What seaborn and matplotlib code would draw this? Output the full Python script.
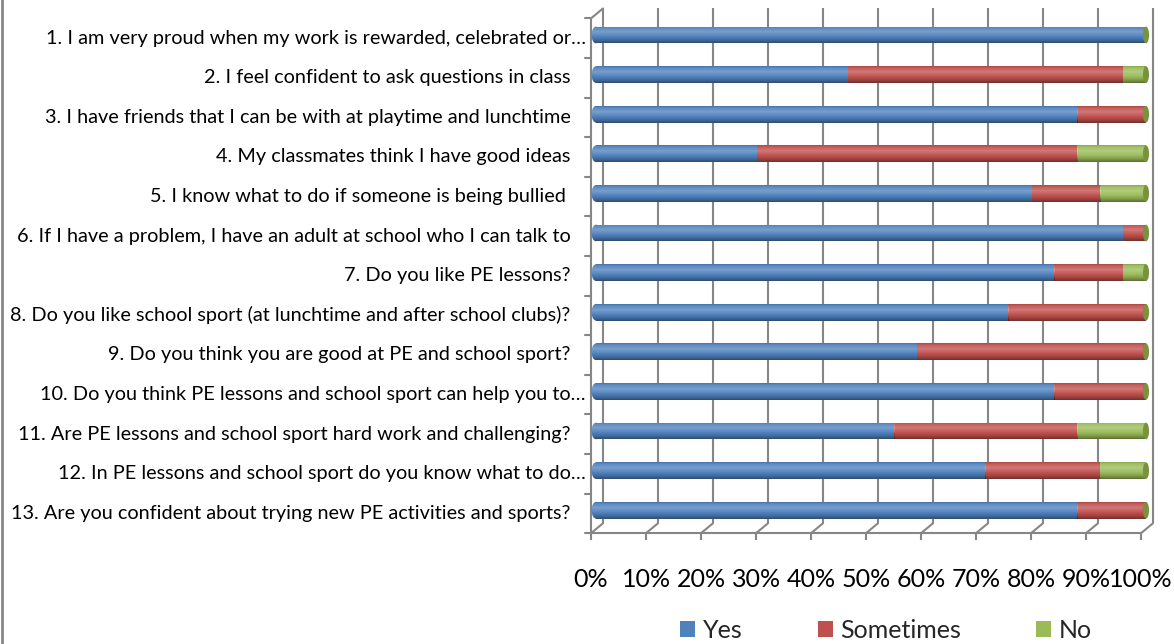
import numpy as np
import pandas as pd
import matplotlib
matplotlib.use("Agg")
import matplotlib.pyplot as plt
from matplotlib.patches import Ellipse, Patch
from matplotlib.lines import Line2D
import seaborn as sns

# ---- survey data (percent of pupils) ----
questions = [
    "1. I am very proud when my work is rewarded, celebrated or…",
    "2. I feel confident to ask questions in class",
    "3. I have friends that I can be with at playtime and lunchtime",
    "4. My classmates think I have good ideas",
    "5. I know what to do if someone is being bullied ",
    "6. If I have a problem, I have an adult at school who I can talk to",
    "7. Do you like PE lessons?",
    "8. Do you like school sport (at lunchtime and after school clubs)?",
    "9. Do you think you are good at PE and school sport?",
    "10. Do you think PE lessons and school sport can help you to…",
    "11. Are PE lessons and school sport hard work and challenging?",
    "12. In PE lessons and school sport do you know what to do…",
    "13. Are you confident about trying new PE activities and sports?",
]
yes = [100.0, 45.8, 87.5, 29.2, 79.2, 95.8, 83.3, 75.0, 58.3, 83.3, 54.2, 70.8, 87.5]
sometimes = [0.0, 50.0, 12.5, 58.3, 12.5, 4.2, 12.5, 25.0, 41.7, 16.7, 33.3, 20.8, 12.5]
no = [0.0, 4.2, 0.0, 12.5, 8.3, 0.0, 4.2, 0.0, 0.0, 0.0, 12.5, 8.3, 0.0]

series_names = ["Yes", "Sometimes", "No"]
series_colors = ["#4F81BD", "#C0504D", "#9BBB59"]
cap_color = "#77933C"

x_ticks = list(range(0, 101, 10))
x_tick_labels = [f"{t}%" for t in x_ticks]

df = pd.DataFrame({"question": questions, "Yes": yes, "Sometimes": sometimes, "No": no})

sns.set_theme(style="white")
plt.rcParams["font.family"] = ["Lato", "DejaVu Sans"]

W, H = 1174, 644
fig = plt.figure(figsize=(W / 100, H / 100), dpi=100)
ax = fig.add_axes([0, 0, 1, 1])

# axis mapping: 5.5 px per percent, 39.6 px per question row
X0, XS = 596.0, 5.5
Y0, YS = 35.0, 39.6
xlim = ((0 - X0) / XS, (W - X0) / XS)
ylim = ((H - Y0) / YS, (0 - Y0) / YS)

grid_c = "#868686"
grid_lw = 1.5

# 3-D frame geometry (offsets in data units)
dxf, dxb = -0.9, 1.27          # front / back wall x-shift
top_f, floor_f = -0.42, 12.58  # front top / floor
dyb = -0.25                    # back wall lift

# back-wall gridlines with their floor diagonals and ticks
for t in x_ticks:
    ax.plot([t + dxb, t + dxb], [top_f + dyb, floor_f + dyb], color=grid_c, lw=grid_lw, zorder=0.5,
            solid_capstyle="butt")
    ax.plot([t + dxb, t + dxf], [floor_f + dyb, floor_f], color=grid_c, lw=grid_lw, zorder=0.5)
    ax.plot([t + dxf, t + dxf], [floor_f, floor_f + 0.18], color=grid_c, lw=grid_lw, zorder=0.5,
            solid_capstyle="butt")
ax.plot([dxf, 100 + dxf], [floor_f, floor_f], color=grid_c, lw=grid_lw, zorder=0.5)
# left wall
ax.plot([dxf, dxf], [top_f, floor_f], color=grid_c, lw=grid_lw, zorder=0.5)
ax.plot([dxf, dxb], [top_f, top_f + dyb], color=grid_c, lw=grid_lw, zorder=0.5)
for k in range(len(questions) + 1):
    ax.plot([dxf - 1.1, dxf], [k + top_f, k + top_f], color=grid_c, lw=grid_lw, zorder=0.5)

# stacked horizontal bars
left = np.zeros(len(questions))
for name, color in zip(series_names, series_colors):
    sns.barplot(data=df, x=name, y="question", orient="h", color=color, width=0.42,
                saturation=1, errorbar=None, linewidth=0, left=left, ax=ax, zorder=2)
    left = left + df[name].to_numpy()

# cylinder shading profile (top -> bottom)
tt = np.linspace(0, 1, 96)
hl = np.clip(1 - np.abs(tt - 0.33) / 0.32, 0, 1) * 0.24
dk = np.clip((tt - 0.58) / 0.42, 0, 1) ** 1.5 * 0.42 + np.clip((0.1 - tt) / 0.1, 0, 1) * 0.12
shade = np.zeros((len(tt), 1, 4))
frac = hl / (hl + dk + 1e-9)
shade[:, 0, 0] = frac
shade[:, 0, 1] = frac
shade[:, 0, 2] = frac
shade[:, 0, 3] = np.clip(hl + dk, 0, 1)


def add_shade(patch):
    bb = patch.get_extents().transformed(ax.transData.inverted())
    x0, x1 = min(bb.x0, bb.x1), max(bb.x0, bb.x1)
    y0, y1 = min(bb.y0, bb.y1), max(bb.y0, bb.y1)
    im = ax.imshow(shade, extent=[x0, x1, y1, y0], origin="upper", aspect="auto",
                   interpolation="bilinear", zorder=patch.get_zorder() + 0.05)
    im.set_clip_path(patch)


ax.set_xlim(*xlim)
ax.set_ylim(*ylim)

for p in list(ax.patches):
    if p.get_width() > 0:
        add_shade(p)

# rounded left ends and right end caps of the cylinders
for i in range(len(questions)):
    e = Ellipse((0, i), 1.6, 0.42, facecolor=series_colors[0], edgecolor="none", zorder=1.9)
    ax.add_patch(e)
    add_shade(e)
    c = Ellipse((100, i), 1.1, 0.42, facecolor=cap_color, edgecolor="none", zorder=2.3)
    ax.add_patch(c)

# category labels
for i, lab in enumerate(questions):
    xr = -1.9 if lab.endswith("…") else -4.6
    ax.text(xr, i + 0.08, lab, ha="right", va="center", fontsize=14.3, color="black")

# percent labels
for t, lab in zip(x_ticks, x_tick_labels):
    ax.text(t + dxf, 13.76, lab, ha="center", va="center", fontsize=18, color="black")

ax.set_xlim(*xlim)
ax.set_ylim(*ylim)
ax.axis("off")

# legend
handles = [Patch(facecolor=c, edgecolor="none") for c in series_colors]
fig.legend(handles, series_names, loc="center", bbox_to_anchor=(886 / W, 1 - 630 / H), ncol=3,
           frameon=False, fontsize=18, handlelength=0.6, handleheight=0.6, handletextpad=0.3,
           columnspacing=3.0)

# chart-area border on the left edge
fig.add_artist(Line2D([2 / W, 2 / W], [0, 1], color=grid_c, lw=2, transform=fig.transFigure))

fig.savefig("out.png", dpi=100, facecolor="white")
